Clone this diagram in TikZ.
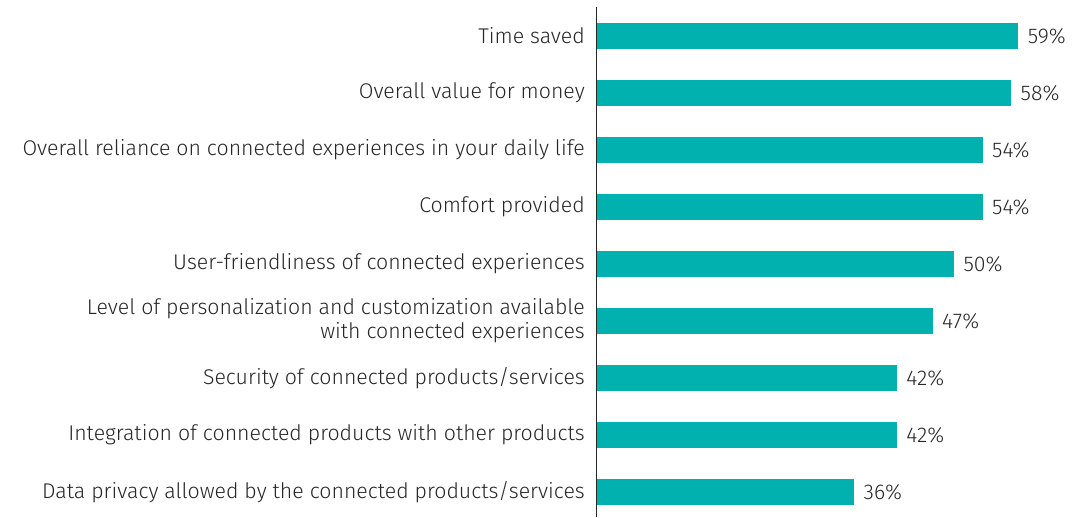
\documentclass[tikz,border=0pt]{standalone}
\usepackage{fontspec}
\setmainfont{Fira Sans}[UprightFont=* Light]
\usetikzlibrary{positioning}
\definecolor{barteal}{HTML}{00B1B0}
\definecolor{inkgray}{HTML}{262626}
\tikzset{
	bar/.style={fill=barteal, draw=none, anchor=west, inner sep=0pt, minimum height=25.5pt},
	lbl/.style={anchor=east, inner sep=0pt, align=right, text=inkgray, font=\fontsize{21.3}{23.4}\selectfont},
	pct/.style={anchor=west, inner sep=0pt, text=inkgray, font=\fontsize{21.3}{23.4}\selectfont}
}
\def\u{7.14pt}

\begin{document}
\begin{tikzpicture}[x=1pt, y=-1pt]
			%%%%% START %%%%%
			\useasboundingbox (0, 0) rectangle (1082, 517);
			
			\draw[line width=1.2pt, color=inkgray] (596.5, 7) -- (596.5, 517);
			
			\node[bar, minimum width=59*\u] (tsaved) at (597, 35.8) {};
			\node[lbl] (ltsaved) at (585, 35.8) {Time saved};
			\node[pct, right=9pt of tsaved] (ptsaved) {59\%};
			
			\node[bar, minimum width=58*\u] (value) at (597, 92.8) {};
			\node[lbl] (lvalue) at (585, 92.8) {Overall value for money};
			\node[pct, right=9pt of value] (pvalue) {58\%};
			
			\node[bar, minimum width=54*\u] (reliance) at (597, 149.8) {};
			\node[lbl] (lreliance) at (585, 149.8) {Overall reliance on connected experiences in your daily life};
			\node[pct, right=9pt of reliance] (preliance) {54\%};
			
			\node[bar, minimum width=54*\u] (comfort) at (597, 206.8) {};
			\node[lbl] (lcomfort) at (585, 206.8) {Comfort provided};
			\node[pct, right=9pt of comfort] (pcomfort) {54\%};
			
			\node[bar, minimum width=50*\u] (friendly) at (597, 263.8) {};
			\node[lbl] (lfriendly) at (585, 263.8) {User-friendliness of connected experiences};
			\node[pct, right=9pt of friendly] (pfriendly) {50\%};
			
			\node[bar, minimum width=47*\u] (personal) at (597, 320.8) {};
			\node[lbl] (lpersonal) at (585, 320.8) {Level of personalization and customization available\\with connected experiences};
			\node[pct, right=9pt of personal] (ppersonal) {47\%};
			
			\node[bar, minimum width=42*\u] (security) at (597, 377.8) {};
			\node[lbl] (lsecurity) at (585, 377.8) {Security of connected products/services};
			\node[pct, right=9pt of security] (psecurity) {42\%};
			
			\node[bar, minimum width=42*\u] (integr) at (597, 434.8) {};
			\node[lbl] (lintegr) at (585, 434.8) {Integration of connected products with other products};
			\node[pct, right=9pt of integr] (pintegr) {42\%};
			
			\node[bar, minimum width=36*\u] (privacy) at (597, 491.8) {};
			\node[lbl] (lprivacy) at (585, 491.8) {Data privacy allowed by the connected products/services};
			\node[pct, right=9pt of privacy] (pprivacy) {36\%};
			
			%%%%% END %%%%%
\end{tikzpicture}
\end{document}
